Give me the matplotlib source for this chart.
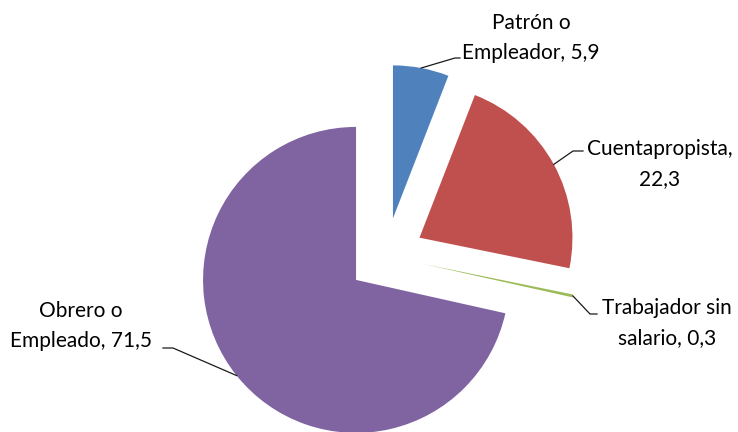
import matplotlib
matplotlib.use('Agg')
import matplotlib.pyplot as plt
import numpy as np

# data (percent)
categories = ['Patrón o Empleador', 'Cuentapropista', 'Trabajador sin salario', 'Obrero o Empleado']
values = [5.9, 22.3, 0.3, 71.5]
colors = ['#4F81BD', '#C0504D', '#9BBB59', '#8064A2']
# where each label breaks onto its second line
label_breaks = ['Patrón o\nEmpleador', 'Cuentapropista,\n', 'Trabajador sin\nsalario', 'Obrero o\nEmpleado']

W, H = 738, 432
R_PX = 153.0            # pie radius in pixels
CX, CY = 385.9, 256.0   # pie centre in pixels (from top-left)


def to_data(px, py):
    """pixel position (top-left origin) -> data coords of the pie axes"""
    return (px - CX) / R_PX, (CY - py) / R_PX


def make_label(brk, val):
    num = f"{val}".replace('.', ',')
    if brk.endswith('\n'):
        return brk + num
    return f"{brk}, {num}"


fig = plt.figure(figsize=(W / 100, H / 100), dpi=100)
ax = fig.add_axes([0, 0, 1, 1])

wedges, _ = ax.pie(values, colors=colors, startangle=90, counterclock=False,
                   explode=[0.25] * len(values), radius=1,
                   wedgeprops=dict(linewidth=0))

x0, y0 = to_data(0, H)
x1, y1 = to_data(W, 0)
ax.set_xlim(x0, x1)
ax.set_ylim(y0, y1)
ax.set_aspect('auto')
ax.axis('off')

# label layout: text centre, elbow of leader line, end of leader line (pixels)
layout = [
    dict(text=(531, 38), elbow=(455, 58), end=(460, 58)),
    dict(text=(660, 164), elbow=(573, 151), end=(583, 151)),
    dict(text=(667, 323), elbow=(590, 314), end=(597, 314)),
    dict(text=(81, 326), elbow=(173, 348), end=(163, 348)),
]

for w, brk, val, lay in zip(wedges, label_breaks, values, layout):
    theta = np.deg2rad((w.theta1 + w.theta2) / 2)
    ax_x = w.center[0] + w.r * np.cos(theta)
    ax_y = w.center[1] + w.r * np.sin(theta)
    ex, ey = to_data(*lay['elbow'])
    nx, ny = to_data(*lay['end'])
    ax.plot([ax_x, ex, nx], [ax_y, ey, ny], color='#1a1a1a', lw=0.9,
            solid_joinstyle='miter')
    tx, ty = to_data(*lay['text'])
    ax.text(tx, ty, make_label(brk, val), ha='center', va='center',
            fontsize=15, family='Lato', linespacing=1.6, color='black')

fig.savefig('out.png', dpi=100, facecolor='white')
